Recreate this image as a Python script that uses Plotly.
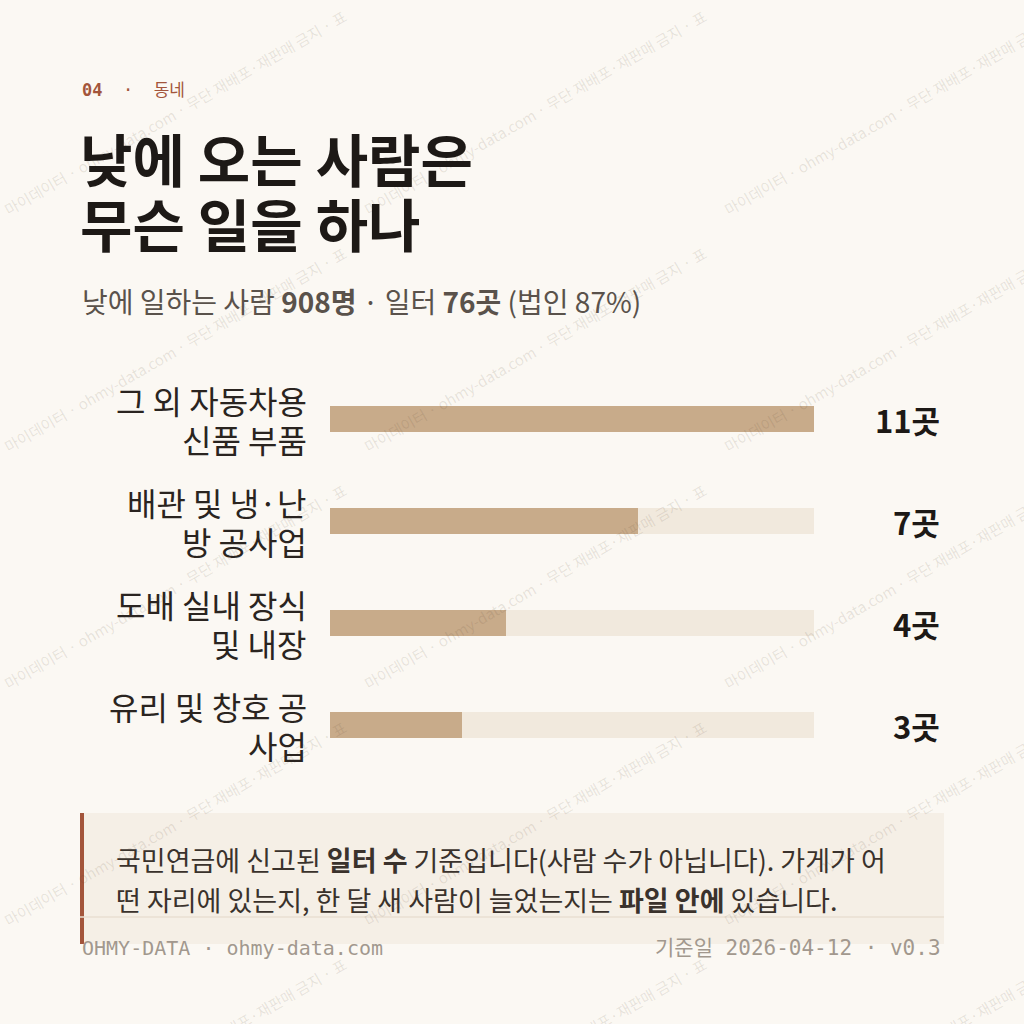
import plotly.graph_objects as go

# ---------------- data ----------------
categories = ["그 외 자동차용 신품 부품", "배관 및 냉·난방 공사업", "도배 실내 장식 및 내장", "유리 및 창호 공사업"]
label_lines = [["그 외 자동차용", "신품 부품"],
               ["배관 및 냉·난", "방 공사업"],
               ["도배 실내 장식", "및 내장"],
               ["유리 및 창호 공", "사업"]]
values = [11, 7, 4, 3]
value_unit = "곳"
max_value = 11

kicker = "<b>04</b>\u00a0\u00a0·\u00a0\u00a0동네"
title_lines = ["낮에 오는 사람은", "무슨 일을 하나"]
subtitle = "낮에 일하는 사람 <b>908명</b> · 일터 <b>76곳</b> (법인 87%)"
note_lines = ["국민연금에 신고된 <b>일터 수</b> 기준입니다(사람 수가 아닙니다). 가게가 어",
              "떤 자리에 있는지, 한 달 새 사람이 늘었는지는 <b>파일 안에</b> 있습니다."]
footer_left = "OHMY-DATA · ohmy-data.com"
footer_right = "기준일 2026-04-12 · v0.3"
watermark = "마이데이터 · ohmy-data.com · 무단 재배포·재판매 금지 · 표"

# ---------------- style ----------------
W = H = 1024
BG = "#fbf8f3"
RUST = "#a3553b"
INK = "#1d1916"
SUB = "#5a524b"
BAR = "#c8ab8a"
TRACK = "#f1e9dd"
NOTE_BG = "#f5efe6"
FOOT = "#a2988e"
KR = "Noto Sans CJK KR"
MONO = "DejaVu Sans Mono, Noto Sans CJK KR"


def px(x):
    return x / W


def py(y):
    return 1 - y / H


fig = go.Figure()

fig.add_trace(go.Bar(
    y=categories, x=[max_value] * len(categories), orientation="h",
    marker=dict(color=TRACK, line=dict(width=0)), width=0.255,
    hoverinfo="skip", showlegend=False))
fig.add_trace(go.Bar(
    y=categories, x=values, orientation="h",
    marker=dict(color=BAR, line=dict(width=0)), width=0.255,
    showlegend=False))

annotations = []

# watermark tiles
for r in range(-1, 5):
    for c in range(-1, 4):
        annotations.append(dict(
            x=px(175 + 360 * c), y=py(112 + 237 * r), xref="paper", yref="paper",
            text=watermark, showarrow=False, textangle=-30,
            font=dict(family=KR, size=15, color="rgba(90,70,50,0.13)"),
            xanchor="center", yanchor="middle"))

# kicker
annotations.append(dict(x=px(80), y=py(90), xref="paper", yref="paper", text=kicker,
                        showarrow=False, xanchor="left", yanchor="middle",
                        font=dict(family=MONO, size=17, color=RUST)))
# title
for i, t in enumerate(title_lines):
    annotations.append(dict(x=px(78), y=py(157 + 65 * i), xref="paper", yref="paper",
                            text="<b>" + t + "</b>", showarrow=False,
                            xanchor="left", yanchor="middle",
                            font=dict(family=KR, size=57, color=INK)))
# subtitle
annotations.append(dict(x=px(80), y=py(301), xref="paper", yref="paper", text=subtitle,
                        showarrow=False, xanchor="left", yanchor="middle",
                        font=dict(family=KR, size=28, color=SUB)))

# category labels & values
for cat, lines, v in zip(categories, label_lines, values):
    n = len(lines)
    for j, ln in enumerate(lines):
        annotations.append(dict(x=px(309), y=cat, xref="paper", yref="y", text=ln,
                                showarrow=False, xanchor="right", yanchor="middle",
                                yshift=-(j - (n - 1) / 2) * 39,
                                font=dict(family=KR, size=32, color="#2a2420")))
    annotations.append(dict(x=px(942), y=cat, xref="paper", yref="y",
                            text=f"<b>{v}{value_unit}</b>", showarrow=False,
                            xanchor="right", yanchor="middle",
                            font=dict(family=KR, size=31, color=INK)))

# note
for i, t in enumerate(note_lines):
    annotations.append(dict(x=px(114), y=py(859 + 40 * i), xref="paper", yref="paper",
                            text=t, showarrow=False, xanchor="left", yanchor="middle",
                            font=dict(family=KR, size=27, color="#3a322c")))

# footer
annotations.append(dict(x=px(80), y=py(948), xref="paper", yref="paper", text=footer_left,
                        showarrow=False, xanchor="left", yanchor="middle",
                        font=dict(family=MONO, size=20, color=FOOT)))
annotations.append(dict(x=px(943), y=py(948), xref="paper", yref="paper", text=footer_right,
                        showarrow=False, xanchor="right", yanchor="middle",
                        font=dict(family=MONO, size=21, color=FOOT)))

shapes = [
    dict(type="rect", xref="paper", yref="paper", x0=px(80), x1=px(944), y0=py(944), y1=py(813),
         fillcolor=NOTE_BG, line=dict(width=0), layer="below"),
    dict(type="rect", xref="paper", yref="paper", x0=px(80), x1=px(84), y0=py(944), y1=py(813),
         fillcolor=RUST, line=dict(width=0), layer="below"),
    dict(type="line", xref="paper", yref="paper", x0=px(80), x1=px(944), y0=py(917), y1=py(917),
         line=dict(color="#e8dfd2", width=1.5), layer="above"),
]

fig.update_layout(
    width=W, height=H, margin=dict(l=0, r=0, t=0, b=0),
    paper_bgcolor=BG, plot_bgcolor="rgba(0,0,0,0)",
    barmode="overlay", bargap=0,
    xaxis=dict(domain=[px(330), px(814)], range=[0, max_value], visible=False, fixedrange=True),
    yaxis=dict(domain=[py(776), py(368)], type="category", categoryorder="array",
               categoryarray=categories, range=[len(categories) - 0.5, -0.5],
               visible=False, fixedrange=True),
    annotations=annotations, shapes=shapes,
    font=dict(family=KR),
)

fig.write_html("out.html", config={"displayModeBar": False},
               post_script="document.body.style.margin='0';document.body.style.background='%s';" % BG)
